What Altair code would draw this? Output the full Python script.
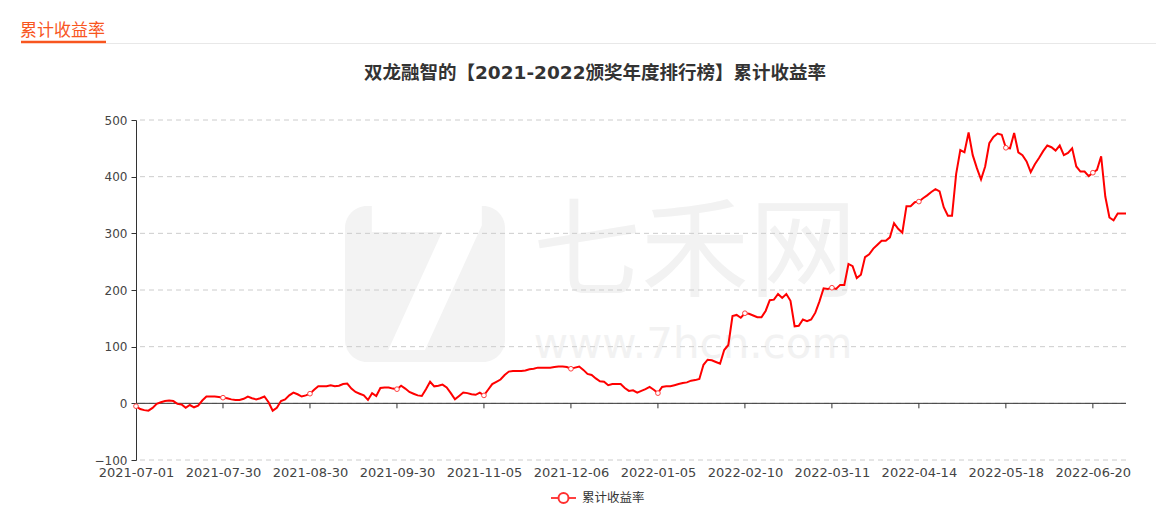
import altair as alt
import pandas as pd

# ---------------- data ----------------
series_name = "累计收益率"
title_text = "双龙融智的【2021-2022颁奖年度排行榜】累计收益率"
header_text = "累计收益率"

tick_labels = ["2021-07-01", "2021-07-30", "2021-08-30", "2021-09-30", "2021-11-05",
               "2021-12-06", "2022-01-05", "2022-02-10", "2022-03-11", "2022-04-14",
               "2022-05-18", "2022-06-20"]
tick_step = 21

values = [
    -5, -10, -12, -13, -8, -1, 2, 4, 5, 4,
    -1, -2, -8, -3, -7, -4, 5, 12, 12, 12,
    11, 10, 9, 7, 6, 6, 8, 12, 9, 7,
    9, 12, 2, -13, -8, 4, 7, 14, 19, 16,
    12, 14, 17, 24, 30, 30, 30, 32, 30, 31,
    34, 35, 26, 20, 17, 14, 6, 18, 13, 27,
    28, 28, 26, 25, 31, 26, 20, 17, 14, 13,
    25, 38, 30, 31, 33, 28, 18, 7, 13, 19,
    18, 16, 15, 19, 14, 24, 34, 38, 42, 50,
    56, 57, 57, 57, 58, 60, 61, 63, 63, 63,
    63, 64, 65, 65, 64, 61, 63, 65, 59, 52,
    50, 44, 39, 38, 32, 34, 34, 34, 27, 22,
    23, 19, 22, 25, 29, 24, 18, 29, 30, 30,
    32, 34, 36, 37, 40, 41, 43, 68, 77, 76,
    73, 70, 94, 103, 154, 156, 151, 159, 158, 155,
    152, 152, 163, 182, 183, 193, 186, 193, 181, 136,
    137, 148, 145, 148, 160, 180, 203, 202, 204, 202,
    209, 209, 246, 242, 221, 227, 258, 263, 273, 280,
    287, 287, 293, 318, 308, 301, 348, 348, 355, 356,
    362, 367, 373, 378, 374, 346, 331, 331, 405, 447,
    443, 478, 438, 415, 395, 418, 459, 470, 476, 474,
    451, 450, 477, 443, 438, 427, 408, 422, 433, 445,
    455, 452, 446, 455, 438, 442, 450, 418, 409, 409,
    401, 407, 412, 436, 365, 328, 323, 335, 335, 335,
]

y_ticks = [-100, 0, 100, 200, 300, 400, 500]

# ---------------- tables ----------------
n = len(values)
df = pd.DataFrame({"idx": list(range(n)), "value": values})
tick_idx = [i * tick_step for i in range(len(tick_labels))]
ticks_df = pd.DataFrame({"idx": tick_idx})
marker_df = df[df["idx"] % tick_step == 0]
grid_df = pd.DataFrame({"v": y_ticks})

RED = "#ff0000"
ORANGE = "#f8561f"
FONT = "DejaVu Sans, Noto Sans CJK SC, sans-serif"
CJK = "Noto Sans CJK SC, DejaVu Sans, sans-serif"

label_expr = "[" + ",".join("'%s'" % s for s in tick_labels) + "][round(datum.value/%d)]" % tick_step

xscale = alt.Scale(domain=[0, n - 1], nice=False, zero=False)
yscale = alt.Scale(domain=[-100, 500], nice=False, zero=False)

x_axis = alt.Axis(values=tick_idx, labelExpr=label_expr, ticks=False, domain=False,
                  grid=False, labelPadding=6, labelFontSize=13, labelColor="#444",
                  labelFont=FONT, title=None, labelFlush=False, labelOverlap=False)
y_axis = alt.Axis(values=y_ticks, grid=False, domainColor="#333", tickColor="#333",
                  tickSize=5, labelPadding=4, labelFontSize=12, labelColor="#444",
                  labelFont=FONT, title=None)

one = pd.DataFrame({"a": [0]})

# watermark
wm_rect = alt.Chart(one).mark_rect(color="#f3f3f3", cornerRadius=22).encode(
    x=alt.value(209), x2=alt.value(369), y=alt.value(86), y2=alt.value(242))
wm_seven = alt.Chart(pd.DataFrame({"t": ["7"]})).mark_text(
    font="DejaVu Sans", fontSize=200, fontWeight="bold", color="white",
    align="center", baseline="middle").encode(
    x=alt.value(292), y=alt.value(170), text="t:N")
wm_cn = alt.Chart(pd.DataFrame({"t": ["七禾网"]})).mark_text(
    font=CJK, fontSize=108, color="#f2f2f2", align="center", baseline="middle").encode(
    x=alt.value(559), y=alt.value(136), text="t:N")
wm_url = alt.Chart(pd.DataFrame({"t": ["www.7hcn.com"]})).mark_text(
    font="DejaVu Sans", fontSize=42, color="#f2f2f2", align="center", baseline="middle").encode(
    x=alt.value(557), y=alt.value(225), text="t:N")

grid = alt.Chart(grid_df).mark_rule(color="#cccccc", strokeDash=[5, 4], strokeWidth=1).encode(
    y=alt.Y("v:Q", scale=yscale, axis=y_axis))

zero_line = alt.Chart(one).mark_rule(color="#333333", strokeWidth=1).encode(
    y=alt.datum(0, scale=yscale))

x_ticks = alt.Chart(ticks_df).mark_rule(color="#333333", strokeWidth=1).encode(
    x=alt.X("idx:Q", scale=xscale, axis=x_axis),
    y=alt.datum(0), y2=alt.datum(-8.8))

line = alt.Chart(df).mark_line(color=RED, strokeWidth=2, interpolate="linear").encode(
    x=alt.X("idx:Q", scale=xscale, axis=x_axis),
    y=alt.Y("value:Q", scale=yscale, axis=y_axis))

markers = alt.Chart(marker_df).mark_point(shape="circle", filled=True, fill="white",
                                          stroke="#ff4040", strokeWidth=1, size=22, opacity=1).encode(
    x=alt.X("idx:Q", scale=xscale),
    y=alt.Y("value:Q", scale=yscale))

# header
header = alt.Chart(pd.DataFrame({"t": [header_text]})).mark_text(
    font=CJK, fontSize=17, color=ORANGE, align="left", baseline="middle").encode(
    x=alt.value(-116), y=alt.value(-89.5), text="t:N")
header_gray = alt.Chart(one).mark_rule(color="#e8e8e8", strokeWidth=1).encode(
    x=alt.value(-30), x2=alt.value(1020), y=alt.value(-76.5))
header_bar = alt.Chart(one).mark_rule(color=ORANGE, strokeWidth=2.5).encode(
    x=alt.value(-115), x2=alt.value(-30), y=alt.value(-78))

title = alt.Chart(pd.DataFrame({"t": [title_text]})).mark_text(
    font=FONT, fontSize=18.5, fontWeight="bold", color="#333333",
    align="center", baseline="middle").encode(
    x=alt.value(459), y=alt.value(-47), text="t:N")

# legend
leg_line = alt.Chart(one).mark_rule(color="#ff4040", strokeWidth=2).encode(
    x=alt.value(415), x2=alt.value(440), y=alt.value(378))
leg_dot = alt.Chart(one).mark_point(shape="circle", filled=True, fill="white",
                                    stroke="#ff3030", strokeWidth=2, size=100, opacity=1).encode(
    x=alt.value(427.5), y=alt.value(378))
leg_text = alt.Chart(pd.DataFrame({"t": [series_name]})).mark_text(
    font=CJK, fontSize=12.5, color="#333333", align="left", baseline="middle").encode(
    x=alt.value(446), y=alt.value(378), text="t:N")

chart = alt.layer(
    wm_rect, wm_seven, wm_cn, wm_url, grid, zero_line, x_ticks, line, markers,
    header_gray, header_bar, header, title, leg_line, leg_dot, leg_text
).properties(
    width=990, height=340,
    padding={"left": 128, "top": 112, "right": 30, "bottom": 48},
    autosize=alt.AutoSizeParams(type="none"),
    background="white",
).configure_view(stroke=None)

chart.save("out.html", embed_options={"renderer": "svg", "actions": False})
